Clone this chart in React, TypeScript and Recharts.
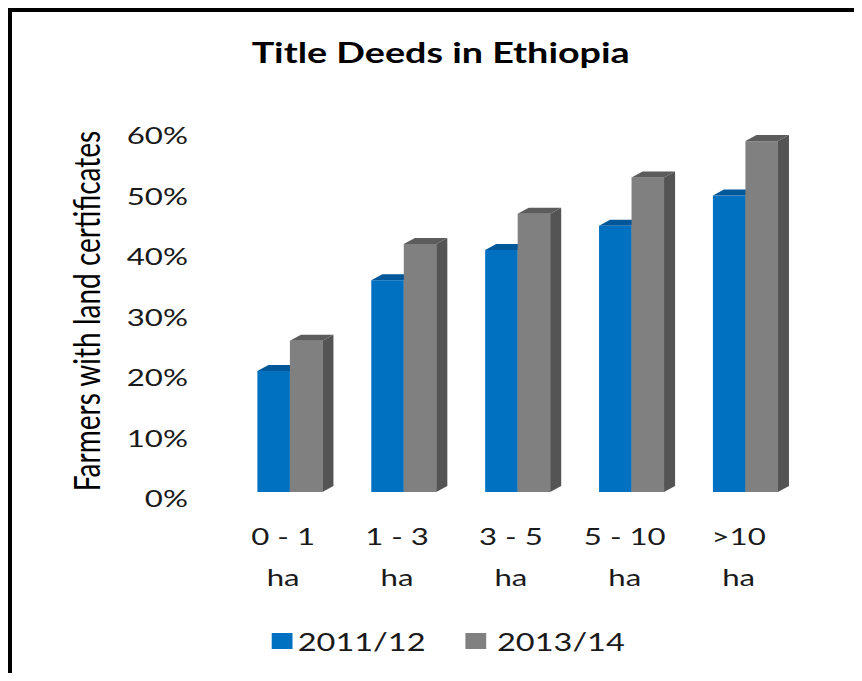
import React from "react";
import { BarChart, Bar, XAxis, YAxis } from "recharts";

const categories = ["0 - 1 ha", "1 - 3 ha", "3 - 5 ha", "5 - 10 ha", ">10 ha"];
const series2011 = [20, 35, 40, 44, 49];
const series2013 = [25, 41, 46, 52, 58];
const yTicks = [0, 10, 20, 30, 40, 50, 60];

const seriesNames = ["2011/12", "2013/14"];
const FONT = "Lato, 'Open Sans', sans-serif";

// the reference looks horizontally stretched, so the chart is drawn narrow then scaled
const STRETCH = 1.3;
const W = 663;
const H = 681;
const DX = 8.5;
const DY = 6;

const chartData = categories.map((c, i) => ({
  category: c,
  a: series2011[i],
  b: series2013[i],
}));

const makeShape = (front: string, top: string, side: string) => (props: any) => {
  const { x, y, width, height } = props;
  if (width == null || height == null || height <= 0) return null;
  return (
    <g>
      <rect x={x} y={y} width={width} height={height} fill={front} />
      <polygon
        points={`${x},${y} ${x + DX},${y - DY} ${x + width + DX},${y - DY} ${x + width},${y}`}
        fill={top}
      />
      <polygon
        points={`${x + width},${y} ${x + width + DX},${y - DY} ${x + width + DX},${y + height - DY} ${x + width},${y + height}`}
        fill={side}
      />
    </g>
  );
};

const blueShape = makeShape("#0070c0", "#00579a", "#004f8a");
const grayShape = makeShape("#808080", "#5c5c5c", "#545454");

const YTick = (props: any) => {
  const { y, payload } = props;
  return (
    <text x={144.6} y={y + 6} textAnchor="end" dominantBaseline="central" fontSize={24} fontFamily={FONT} fill="#1a1a1a">
      {payload.value}%
    </text>
  );
};

const XTick = (props: any) => {
  const { x, y, payload } = props;
  const label: string = payload.value;
  const parts = label.endsWith(" ha") ? [label.slice(0, -3), "ha"] : [label];
  return (
    <text x={x - 5} y={y} textAnchor="middle" fontSize={24} fontFamily={FONT} fill="#1a1a1a">
      {parts.map((p, i) => (
        <tspan key={i} x={x - 5} y={y + 45 + i * 41}>
          {p}
        </tspan>
      ))}
    </text>
  );
};

const YLabel = () => {
  return (
    <text
      x={66}
      y={311}
      transform="rotate(-90, 66, 311)"
      textAnchor="middle"
      dominantBaseline="central"
      fontSize={28}
      fontFamily={FONT}
      fill="#000"
    >
      Farmers with land certificates
    </text>
  );
};

export default function App() {
  return (
    <div style={{ position: "relative", width: 862, height: H, margin: -8, background: "#f3f4ef", overflow: "hidden" }}>
      <div
        style={{
          position: "absolute",
          left: 8,
          top: 8,
          right: -20,
          bottom: -20,
          borderLeft: "4px solid #000",
          borderTop: "4px solid #000",
          background: "#fff",
        }}
      />
      <div style={{ position: "absolute", left: 0, top: 0, width: W, height: H, transform: `scaleX(${STRETCH})`, transformOrigin: "0 0" }}>
        <div
          style={{
            position: "absolute",
            left: 0,
            width: 678,
            top: 34,
            textAlign: "center",
            fontFamily: FONT,
            fontWeight: 700,
            fontSize: 29,
            color: "#000",
          }}
        >
          Title Deeds in Ethiopia
        </div>
        <BarChart
          width={W}
          height={H}
          data={chartData}
          margin={{ top: 129, right: 46, bottom: 129, left: 0 }}
          barCategoryGap={19}
          barGap={0}
        >
          <XAxis dataKey="category" height={60} axisLine={false} tickLine={false} tick={<XTick />} interval={0} />
          <YAxis
            width={179}
            domain={[0, 60]}
            ticks={yTicks}
            axisLine={false}
            tickLine={false}
            tick={<YTick />}
            label={<YLabel />}
          />
          <Bar dataKey="a" name={seriesNames[0]} fill="#0070c0" shape={blueShape} isAnimationActive={false} />
          <Bar dataKey="b" name={seriesNames[1]} fill="#808080" shape={grayShape} isAnimationActive={false} />
        </BarChart>
        <div
          style={{
            position: "absolute",
            left: 209,
            top: 626,
            display: "flex",
            alignItems: "center",
            fontFamily: FONT,
            fontSize: 25,
            color: "#1a1a1a",
          }}
        >
          <span style={{ width: 16, height: 16, background: "#0070c0", display: "inline-block", marginRight: 4 }} />
          <span style={{ marginRight: 31 }}>{seriesNames[0]}</span>
          <span style={{ width: 16, height: 16, background: "#808080", display: "inline-block", marginRight: 8 }} />
          <span>{seriesNames[1]}</span>
        </div>
      </div>
    </div>
  );
}
